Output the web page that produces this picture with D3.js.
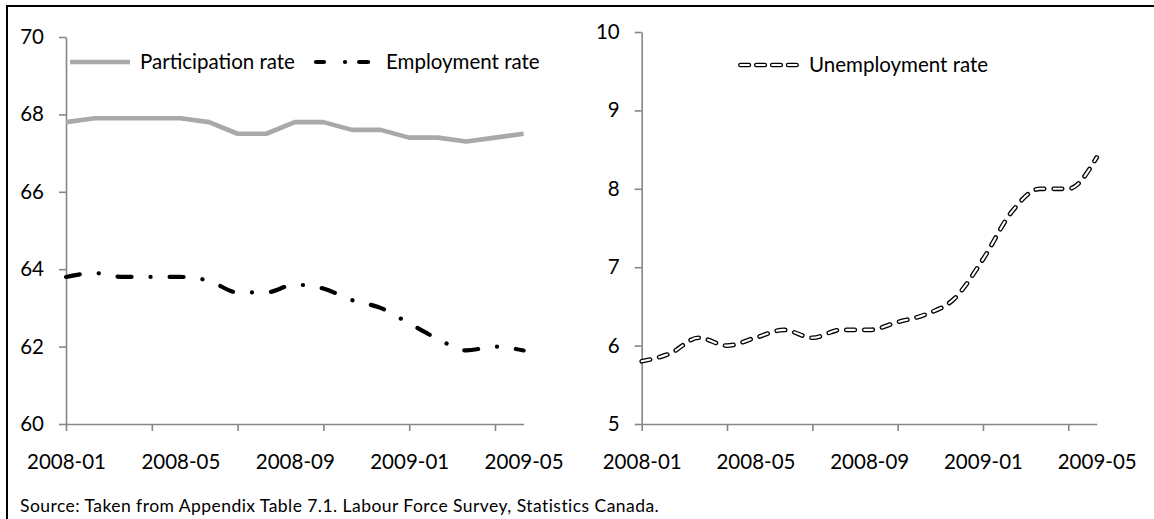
<!DOCTYPE html>
<html>
<head>
<meta charset="utf-8">
<script src="https://cdn.jsdelivr.net/npm/d3@7/dist/d3.min.js"></script>
<style>
  body { margin: 0; background: #fff; }
  svg { display: block; }
  text { font-family: Lato, "Open Sans", sans-serif; fill: #000; }
</style>
</head>
<body>
<svg id="chart" width="1154" height="519"></svg>
<script>
// ---- data ----
const months = ["2008-01","2008-02","2008-03","2008-04","2008-05","2008-06","2008-07","2008-08","2008-09",
                "2008-10","2008-11","2008-12","2009-01","2009-02","2009-03","2009-04","2009-05"];
const xTickLabels = ["2008-01","2008-05","2008-09","2009-01","2009-05"];
const xTickMarks = ["2008-01","2008-04","2008-07","2008-10","2009-01","2009-04"];
const participationRate = [67.8,67.9,67.9,67.9,67.9,67.8,67.5,67.5,67.8,67.8,67.6,67.6,67.4,67.4,67.3,67.4,67.5];
const employmentRate    = [63.8,63.9,63.8,63.8,63.8,63.7,63.4,63.4,63.6,63.5,63.2,63.0,62.6,62.2,61.9,62.0,61.9];
const unemploymentRate  = [5.8,5.9,6.1,6.0,6.1,6.2,6.1,6.2,6.2,6.3,6.4,6.6,7.1,7.7,8.0,8.0,8.4];
const leftYTicks = [60,62,64,66,68,70];
const rightYTicks = [5,6,7,8,9,10];
const legendLeft = ["Participation rate","Employment rate"];
const legendRight = ["Unemployment rate"];
const sourceNote = "Source: Taken from Appendix Table 7.1. Labour Force Survey, Statistics Canada.";

// ---- layout ----
const svg = d3.select("#chart");
const AXIS = "#868686";
const FS = 20.5;

svg.append("rect").attr("width",1154).attr("height",519).attr("fill","#fff");
svg.append("rect").attr("x",7).attr("y",6).attr("width",1170).attr("height",530)
   .attr("fill","none").attr("stroke","#000").attr("stroke-width",2);

function styleAxis(g){
  g.select(".domain").attr("stroke",AXIS).attr("stroke-width",1.6);
  g.selectAll(".tick line").attr("stroke",AXIS).attr("stroke-width",1.6);
  g.selectAll("text").attr("font-size",FS).attr("font-family","Lato, sans-serif").attr("fill","#000");
}

function panel(x0, x1, yTop, yBot, yDomain, yTicks){
  const x = d3.scalePoint().domain(months).range([x0,x1]);
  const y = d3.scaleLinear().domain(yDomain).range([yBot,yTop]);
  svg.append("g").attr("transform",`translate(0,${yBot})`)
    .call(d3.axisBottom(x).tickValues(xTickMarks).tickFormat("").tickSize(7).tickSizeOuter(0))
    .call(styleAxis);
  const lab = svg.append("g").attr("transform",`translate(0,${yBot})`)
    .call(d3.axisBottom(x).tickValues(xTickLabels).tickSize(0).tickPadding(30).tickSizeOuter(0))
    .call(styleAxis);
  lab.select(".domain").remove();
  svg.append("g").attr("transform",`translate(${x0},0)`)
    .call(d3.axisLeft(y).tickValues(yTicks).tickSize(7).tickPadding(15).tickSizeOuter(0).tickFormat(d3.format("d")))
    .call(styleAxis);
  return {x,y};
}

// left panel
const L = panel(66, 523.6, 37, 424, [60,70], leftYTicks);
const lineL = (vals, curve) => d3.line().x((d,i)=>L.x(months[i])).y(d=>L.y(d)).curve(curve)(vals);

svg.append("path").attr("d", lineL(participationRate, d3.curveLinear))
  .attr("fill","none").attr("stroke","#A9A9A9").attr("stroke-width",4.6).attr("stroke-linejoin","round");
svg.append("path").attr("d", lineL(employmentRate, d3.curveMonotoneX))
  .attr("fill","none").attr("stroke","#000").attr("stroke-width",4.2)
  .attr("stroke-linecap","round").attr("stroke-dasharray","14,19,0.1,19");

// right panel
const R = panel(641.7, 1096.7, 32, 424, [5,10], rightYTicks);
const dR = d3.line().x((d,i)=>R.x(months[i])).y(d=>R.y(d)).curve(d3.curveMonotoneX)(unemploymentRate);
svg.append("path").attr("d", dR).attr("fill","none").attr("stroke","#000").attr("stroke-width",4.7)
  .attr("stroke-linecap","round").attr("stroke-dasharray","8.5,9.5");
svg.append("path").attr("d", dR).attr("fill","none").attr("stroke","#fff").attr("stroke-width",2.1)
  .attr("stroke-linecap","round").attr("stroke-dasharray","8.5,9.5");

// legends
svg.append("line").attr("x1",70).attr("x2",130).attr("y1",62).attr("y2",62)
  .attr("stroke","#A9A9A9").attr("stroke-width",4.6);
svg.append("text").attr("x",140).attr("y",62).attr("dy","0.35em").attr("font-size",FS).text(legendLeft[0]);
svg.append("line").attr("x1",316).attr("x2",374).attr("y1",62).attr("y2",62)
  .attr("stroke","#000").attr("stroke-width",4.2).attr("stroke-linecap","round")
  .attr("stroke-dasharray","8,21,0.1,14,9");
svg.append("text").attr("x",386).attr("y",62).attr("dy","0.35em").attr("font-size",FS).text(legendLeft[1]);

svg.append("line").attr("x1",740.4).attr("x2",796.6).attr("y1",65).attr("y2",65)
  .attr("stroke","#000").attr("stroke-width",4.7).attr("stroke-linecap","round").attr("stroke-dasharray","8.5,7.4");
svg.append("line").attr("x1",740.4).attr("x2",796.6).attr("y1",65).attr("y2",65)
  .attr("stroke","#fff").attr("stroke-width",2.1).attr("stroke-linecap","round").attr("stroke-dasharray","8.5,7.4");
svg.append("text").attr("x",809).attr("y",65).attr("dy","0.35em").attr("font-size",FS).text(legendRight[0]);

// source
svg.append("text").attr("x",20).attr("y",511.5).attr("font-size",17.5).attr("letter-spacing",0.45).text(sourceNote);
</script>
</body>
</html>
